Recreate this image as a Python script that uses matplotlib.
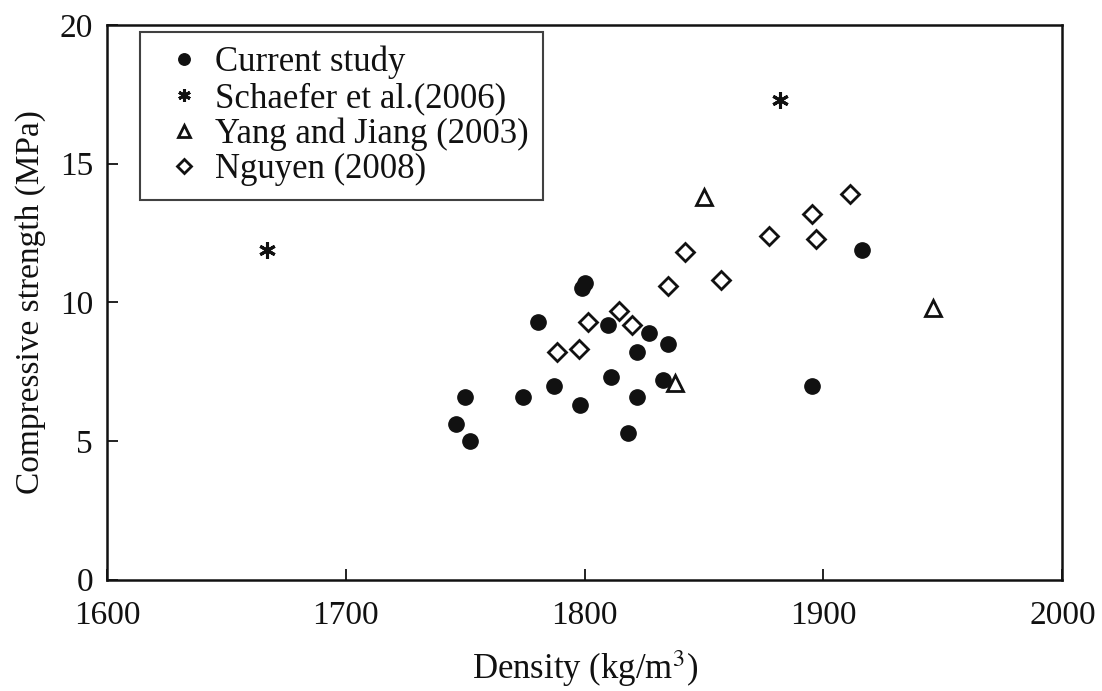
import matplotlib
matplotlib.use("Agg")
import matplotlib.pyplot as plt

## data
current_x = [1799, 1800, 1780.5, 1810, 1827, 1835, 1822, 1811, 1833, 1787, 1750, 1774, 1822, 1798, 1746, 1752, 1818, 1895, 1916]
current_y = [10.5, 10.7, 9.3, 9.2, 8.9, 8.5, 8.2, 7.3, 7.2, 7.0, 6.6, 6.6, 6.6, 6.3, 5.6, 5.0, 5.3, 7.0, 11.9]

schaefer_x = [1667, 1882]
schaefer_y = [11.9, 17.3]

yang_x = [1850, 1838, 1946]
yang_y = [13.8, 7.1, 9.8]

nguyen_x = [1911, 1895, 1877, 1897, 1857, 1842, 1835, 1814.5, 1801.5, 1820, 1788.5, 1797.5]
nguyen_y = [13.9, 13.2, 12.4, 12.3, 10.8, 11.8, 10.6, 9.7, 9.3, 9.2, 8.2, 8.3]

x_ticks = [1600, 1700, 1800, 1900, 2000]
y_ticks = [0, 5, 10, 15, 20]

plt.rcParams['font.family'] = ['Liberation Serif', 'DejaVu Serif']
plt.rcParams['mathtext.fontset'] = 'stix'

fig = plt.figure(figsize=(11.02, 6.91), dpi=100)
ax = fig.add_axes([0.097, 0.161, 0.867, 0.803])

ax.plot(current_x, current_y, 'o', color='#111111', ms=11, ls='none', label='Current study')
ax.plot(schaefer_x, schaefer_y, marker=(6, 2, 0), color='#111111', ms=12, mew=2.2, ls='none',
        label='Schaefer et al.(2006)')
ax.plot(yang_x, yang_y, '^', mfc='white', mec='#111111', mew=2, ms=12, ls='none',
        label='Yang and Jiang (2003)')
ax.plot(nguyen_x, nguyen_y, 'D', mfc='white', mec='#111111', mew=2, ms=9, ls='none',
        label='Nguyen (2008)')

ax.set_xlim(1600, 2000)
ax.set_ylim(0, 20)
ax.set_xticks(x_ticks)
ax.set_yticks(y_ticks)
ax.tick_params(direction='in', length=8, width=1.3, labelsize=24, colors='#111111')
ax.tick_params(axis='x', pad=15)
ax.tick_params(axis='y', pad=10)
for sp in ax.spines.values():
    sp.set_linewidth(1.8)
    sp.set_color('#111111')

ax.set_xlabel('Density (kg/m$^3$)', fontsize=25, labelpad=12, color='#111111')
ax.set_ylabel('Compressive strength (MPa)', fontsize=24, labelpad=10, color='#111111')

leg = ax.legend(loc='upper left', bbox_to_anchor=(0.035, 0.987), fontsize=25, frameon=True,
                fancybox=False, edgecolor='#111111', handlelength=1.7, handletextpad=0.05,
                labelspacing=0.07, borderpad=0.4, borderaxespad=0, markerscale=0.75)
leg.get_frame().set_linewidth(1.5)
for t in leg.get_texts():
    t.set_color('#111111')

fig.savefig('out.png', dpi=100)
